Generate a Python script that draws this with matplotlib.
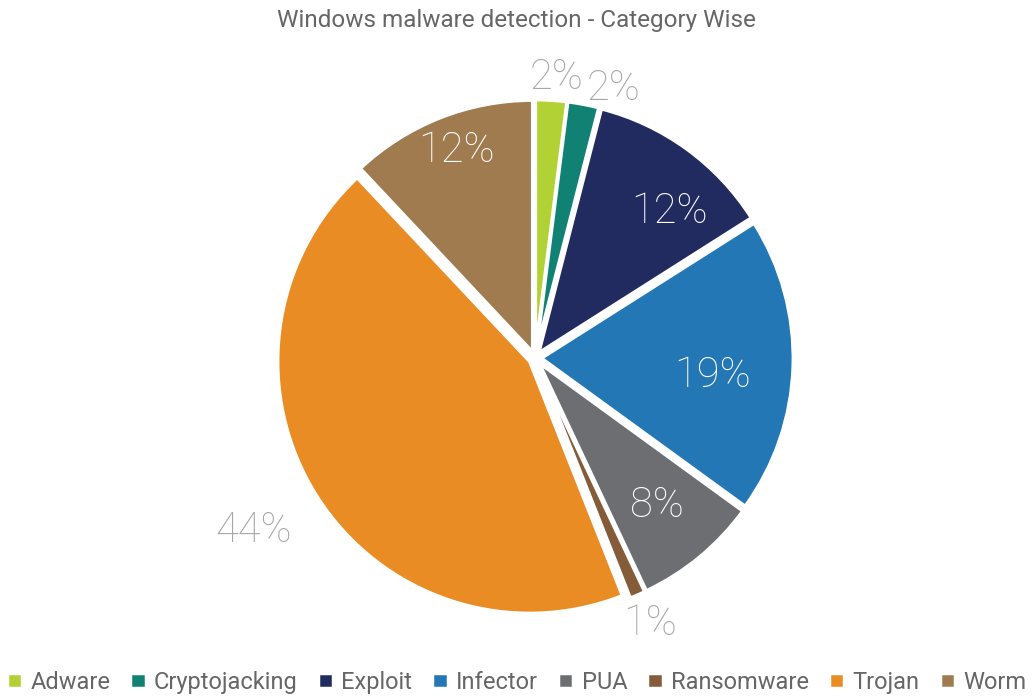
import numpy as np
import matplotlib
matplotlib.use('Agg')
import matplotlib.pyplot as plt

# 数据
categories = ['Adware', 'Cryptojacking', 'Exploit', 'Infector', 'PUA',
              'Ransomware', 'Trojan', 'Worm']
shares = [2, 2, 12, 19, 8, 1, 44, 12]
labels = ['2%', '2%', '12%', '19%', '8%', '1%', '44%', '12%']

colors = ['#b1d135', '#118173', '#212b5f', '#2277b4', '#6d6e72',
          '#845c3a', '#ea8c24', '#a07b50']
# 标签位置：半径比例、角度偏移；内部白色，外部浅灰
label_r = [1.115, 1.115, 0.79, 0.71, 0.76, 1.15, 1.31, 0.88]
label_dt = [-0.9, -5.5, -6.5, -3.7, 0, 0, -0.9, -0.8]
label_c = ['#a6a6a6', '#a6a6a6', 'white', 'white', 'white', '#a6a6a6', '#a6a6a6', 'white']

plt.rcParams['font.family'] = ['Roboto', 'DejaVu Sans']

fig = plt.figure(figsize=(10.33, 6.97), dpi=100)
a = 1.4
R = 252
S = 2 * R * a
cx, cy = 535, 697 - 358
ax = fig.add_axes([(cx - S / 2) / 1033, (cy - S / 2) / 697, S / 1033, S / 697])

wedges, _ = ax.pie(shares, colors=colors, startangle=90, counterclock=False,
                   explode=[0.025] * len(shares),
                   wedgeprops=dict(edgecolor='white', linewidth=2.5))
ax.set_xlim(-a, a)
ax.set_ylim(-a, a)
ax.set_aspect('equal')
ax.axis('off')

for w, lab, r, dt, c in zip(wedges, labels, label_r, label_dt, label_c):
    mid = np.deg2rad((w.theta1 + w.theta2) / 2 + dt)
    ax.text(r * np.cos(mid), r * np.sin(mid), lab, ha='center', va='center',
            fontsize=30, color=c, fontweight='light', clip_on=False)

fig.text(0.5, 0.971, 'Windows malware detection - Category Wise', ha='center',
         va='center', fontsize=17.5, color='#666666')

fig.legend(wedges, categories, loc='lower center', bbox_to_anchor=(0.5, -0.019),
           ncol=8, frameon=False, fontsize=17, labelcolor='#666666',
           handlelength=0.65, handleheight=0.65, handletextpad=0.35,
           columnspacing=0.85, borderpad=0.2)

fig.savefig('out.png', dpi=100)
